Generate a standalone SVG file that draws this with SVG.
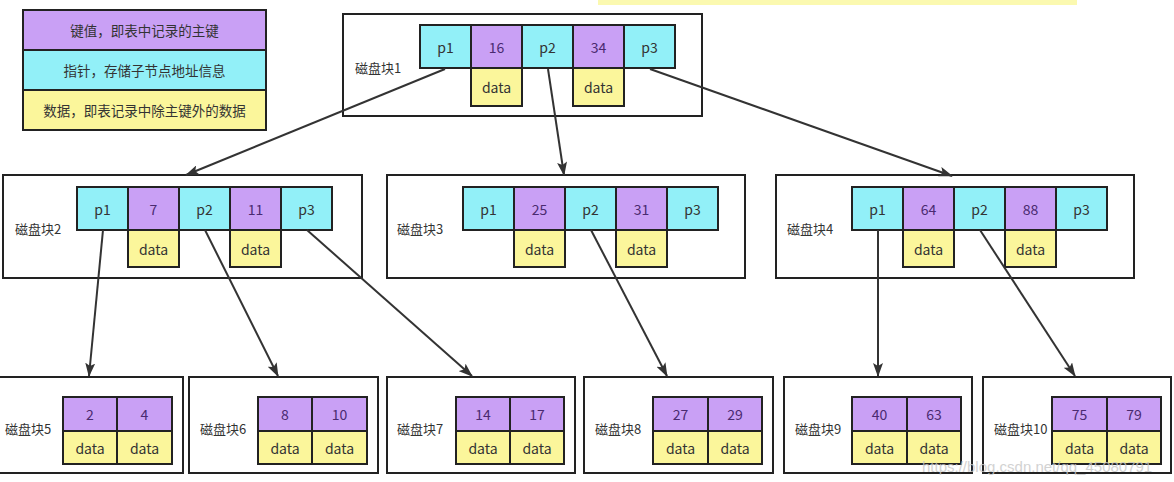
<svg xmlns="http://www.w3.org/2000/svg" width="1174" height="482" viewBox="0 0 1174 482">
<style>
text{font-family:"Noto Sans CJK SC","Liberation Sans",sans-serif;font-size:14px;fill:#333;text-anchor:middle;dominant-baseline:central}
.lbl{text-anchor:start;font-size:13px}
.lg{font-size:13.5px}
.box{fill:#fff;stroke:#222;stroke-width:2}
.k{fill:#c9a0f5;stroke:#222;stroke-width:2}
.p{fill:#92f0f8;stroke:#222;stroke-width:2}
.d{fill:#fbf69b;stroke:#222;stroke-width:2}
.kt{fill:#4a2a70}
.e{stroke:#333;stroke-width:2;fill:none;marker-end:url(#ah)}
.wm{fill:#c8c8c8;font-family:"Liberation Sans",sans-serif;font-size:15px;text-anchor:start;opacity:.8}
</style>
<defs>
<marker id="ah" viewBox="0 0 14 10" refX="13" refY="5" markerWidth="14" markerHeight="10" markerUnits="userSpaceOnUse" orient="auto">
<path d="M0,0 L14,5 L0,10 L3,5 Z" fill="#333"/>
</marker>
</defs>
<rect width="1174" height="482" fill="#fff"/>
<rect x="598" y="0" width="479" height="5" fill="#fbf9b0"/>

<g id="legend">
<rect class="k" x="23" y="10" width="243" height="40"/>
<text class="lg" x="144.5" y="30">键值，即表中记录的主键</text>
<rect class="p" x="23" y="50" width="243" height="40"/>
<text class="lg" x="144.5" y="70">指针，存储子节点地址信息</text>
<rect class="d" x="23" y="90" width="243" height="40"/>
<text class="lg" x="144.5" y="110">数据，即表记录中除主键外的数据</text>
</g>

<g id="node1">
<rect class="box" x="343" y="14" width="359" height="102"/>
<text class="lbl" x="355" y="67">磁盘块1</text>
<rect class="p" x="420" y="25" width="51" height="43"/><text x="445.5" y="46.5">p1</text>
<rect class="k" x="471" y="25" width="51" height="43"/><text class="kt" x="496.5" y="46.5">16</text>
<rect class="p" x="522" y="25" width="51" height="43"/><text x="547.5" y="46.5">p2</text>
<rect class="k" x="573" y="25" width="51" height="43"/><text class="kt" x="598.5" y="46.5">34</text>
<rect class="p" x="624" y="25" width="51" height="43"/><text x="649.5" y="46.5">p3</text>
<rect class="d" x="471" y="68" width="51" height="38"/><text x="496.5" y="87">data</text>
<rect class="d" x="573" y="68" width="51" height="38"/><text x="598.5" y="87">data</text>
</g>

<g id="node2">
<rect class="box" x="3" y="175" width="359" height="103"/>
<text class="lbl" x="15" y="228">磁盘块2</text>
<rect class="p" x="77" y="187" width="51" height="43"/><text x="102.5" y="208.5">p1</text>
<rect class="k" x="128" y="187" width="51" height="43"/><text class="kt" x="153.5" y="208.5">7</text>
<rect class="p" x="179" y="187" width="51" height="43"/><text x="204.5" y="208.5">p2</text>
<rect class="k" x="230" y="187" width="51" height="43"/><text class="kt" x="255.5" y="208.5">11</text>
<rect class="p" x="281" y="187" width="51" height="43"/><text x="306.5" y="208.5">p3</text>
<rect class="d" x="128" y="230" width="51" height="37"/><text x="153.5" y="248.5">data</text>
<rect class="d" x="230" y="230" width="51" height="37"/><text x="255.5" y="248.5">data</text>
</g>

<g id="node3">
<rect class="box" x="387" y="175" width="358" height="103"/>
<text class="lbl" x="397" y="228">磁盘块3</text>
<rect class="p" x="463" y="187" width="51" height="43"/><text x="488.5" y="208.5">p1</text>
<rect class="k" x="514" y="187" width="51" height="43"/><text class="kt" x="539.5" y="208.5">25</text>
<rect class="p" x="565" y="187" width="51" height="43"/><text x="590.5" y="208.5">p2</text>
<rect class="k" x="616" y="187" width="51" height="43"/><text class="kt" x="641.5" y="208.5">31</text>
<rect class="p" x="667" y="187" width="51" height="43"/><text x="692.5" y="208.5">p3</text>
<rect class="d" x="514" y="230" width="51" height="37"/><text x="539.5" y="248.5">data</text>
<rect class="d" x="616" y="230" width="51" height="37"/><text x="641.5" y="248.5">data</text>
</g>

<g id="node4">
<rect class="box" x="776" y="175" width="358" height="103"/>
<text class="lbl" x="787" y="228">磁盘块4</text>
<rect class="p" x="852" y="187" width="51" height="43"/><text x="877.5" y="208.5">p1</text>
<rect class="k" x="903" y="187" width="51" height="43"/><text class="kt" x="928.5" y="208.5">64</text>
<rect class="p" x="954" y="187" width="51" height="43"/><text x="979.5" y="208.5">p2</text>
<rect class="k" x="1005" y="187" width="51" height="43"/><text class="kt" x="1030.5" y="208.5">88</text>
<rect class="p" x="1056" y="187" width="51" height="43"/><text x="1081.5" y="208.5">p3</text>
<rect class="d" x="903" y="230" width="51" height="37"/><text x="928.5" y="248.5">data</text>
<rect class="d" x="1005" y="230" width="51" height="37"/><text x="1030.5" y="248.5">data</text>
</g>

<g id="node5">
<rect class="box" x="-1" y="377" width="184" height="96"/>
<text class="lbl" x="5" y="428">磁盘块5</text>
<rect class="k" x="63" y="397" width="54" height="34"/><text class="kt" x="90" y="414">2</text>
<rect class="k" x="117" y="397" width="55" height="34"/><text class="kt" x="144.5" y="414">4</text>
<rect class="d" x="63" y="431" width="54" height="33"/><text x="90" y="447.5">data</text>
<rect class="d" x="117" y="431" width="55" height="33"/><text x="144.5" y="447.5">data</text>
</g>

<g id="node6">
<rect class="box" x="189" y="377" width="189" height="96"/>
<text class="lbl" x="200" y="428">磁盘块6</text>
<rect class="k" x="258" y="397" width="54" height="34"/><text class="kt" x="285" y="414">8</text>
<rect class="k" x="312" y="397" width="55" height="34"/><text class="kt" x="339.5" y="414">10</text>
<rect class="d" x="258" y="431" width="54" height="33"/><text x="285" y="447.5">data</text>
<rect class="d" x="312" y="431" width="55" height="33"/><text x="339.5" y="447.5">data</text>
</g>

<g id="node7">
<rect class="box" x="387" y="377" width="188" height="96"/>
<text class="lbl" x="397" y="428">磁盘块7</text>
<rect class="k" x="456" y="397" width="54" height="34"/><text class="kt" x="483" y="414">14</text>
<rect class="k" x="510" y="397" width="54" height="34"/><text class="kt" x="537" y="414">17</text>
<rect class="d" x="456" y="431" width="54" height="33"/><text x="483" y="447.5">data</text>
<rect class="d" x="510" y="431" width="54" height="33"/><text x="537" y="447.5">data</text>
</g>

<g id="node8">
<rect class="box" x="584" y="377" width="189" height="96"/>
<text class="lbl" x="595" y="428">磁盘块8</text>
<rect class="k" x="653" y="397" width="55" height="34"/><text class="kt" x="680.5" y="414">27</text>
<rect class="k" x="708" y="397" width="54" height="34"/><text class="kt" x="735" y="414">29</text>
<rect class="d" x="653" y="431" width="55" height="33"/><text x="680.5" y="447.5">data</text>
<rect class="d" x="708" y="431" width="54" height="33"/><text x="735" y="447.5">data</text>
</g>

<g id="node9">
<rect class="box" x="784" y="377" width="188" height="96"/>
<text class="lbl" x="795" y="428">磁盘块9</text>
<rect class="k" x="852" y="397" width="55" height="34"/><text class="kt" x="879.5" y="414">40</text>
<rect class="k" x="907" y="397" width="54" height="34"/><text class="kt" x="934" y="414">63</text>
<rect class="d" x="852" y="431" width="55" height="33"/><text x="879.5" y="447.5">data</text>
<rect class="d" x="907" y="431" width="54" height="33"/><text x="934" y="447.5">data</text>
</g>

<g id="node10">
<rect class="box" x="983" y="377" width="188" height="96"/>
<rect class="k" x="1052" y="397" width="55" height="34"/><text class="kt" x="1079.5" y="414">75</text>
<rect class="k" x="1107" y="397" width="54" height="34"/><text class="kt" x="1134" y="414">79</text>
<rect class="d" x="1052" y="431" width="55" height="33"/><text x="1079.5" y="447.5">data</text>
<rect class="d" x="1107" y="431" width="54" height="33"/><text x="1134" y="447.5">data</text>
<text class="lbl" x="994" y="428">磁盘块10</text>
</g>

<g id="connectors">
<path class="e" d="M445,69 L186,175"/>
<path class="e" d="M548,69 L564,175"/>
<path class="e" d="M650,69 L952,176"/>
<path class="e" d="M103,230 L89,376"/>
<path class="e" d="M205,230 L278,376"/>
<path class="e" d="M307,230 L472,376"/>
<path class="e" d="M591,230 L667,376"/>
<path class="e" d="M878,230 L878,376"/>
<path class="e" d="M980,230 L1075,376"/>
</g>

<text class="wm" x="922" y="466">https://blog.csdn.net/qq_45080791</text>
</svg>
